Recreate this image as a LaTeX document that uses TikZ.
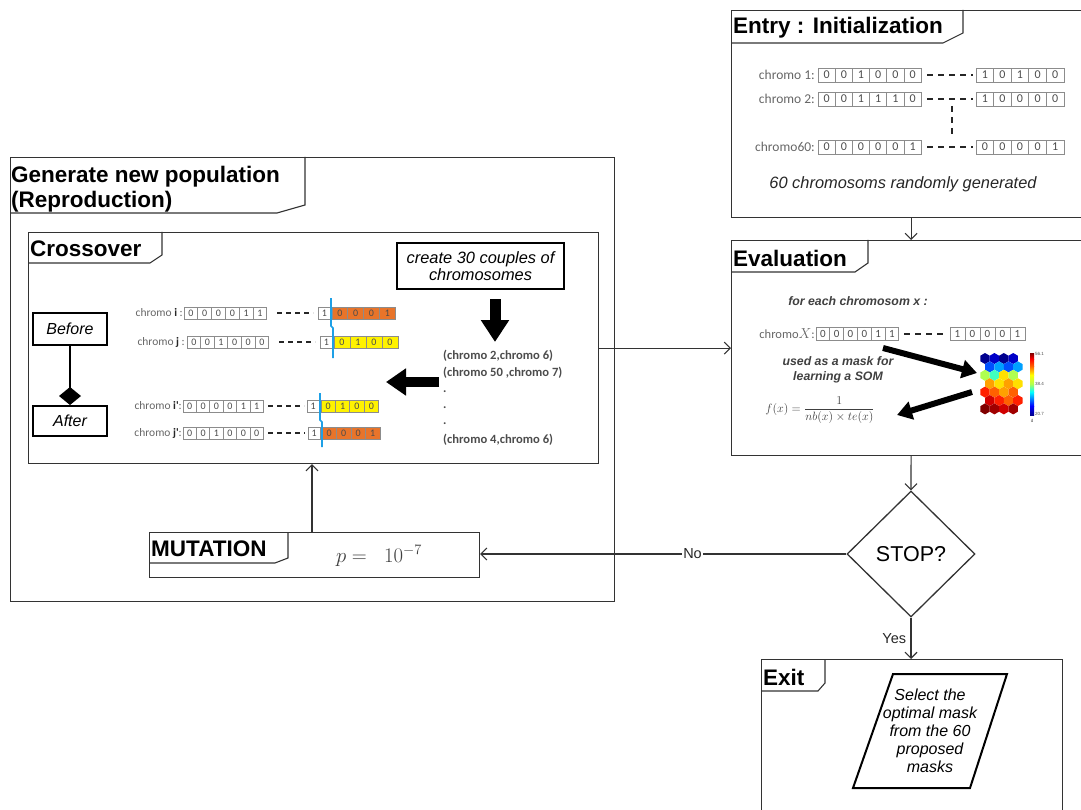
\documentclass[tikz,border=0pt]{standalone}
\usepackage[no-math]{fontspec}
\setmainfont{Liberation Sans}
\newfontfamily\calfont{Carlito}
\usetikzlibrary{arrows.meta,shapes.geometric,calc}
\definecolor{jA}{HTML}{00008F}
\definecolor{jB}{HTML}{0000C8}
\definecolor{jC}{HTML}{0050FF}
\definecolor{jD}{HTML}{00A0FF}
\definecolor{jE}{HTML}{40FFBF}
\definecolor{jF}{HTML}{B0FF50}
\definecolor{jG}{HTML}{FFE000}
\definecolor{jH}{HTML}{FFA000}
\definecolor{jI}{HTML}{FF6000}
\definecolor{jJ}{HTML}{FF2000}
\definecolor{jK}{HTML}{D00000}
\definecolor{jL}{HTML}{A00000}
\definecolor{jM}{HTML}{800000}
\definecolor{xorange}{HTML}{E8742A}
\definecolor{xyellow}{HTML}{FFF200}
\definecolor{cutblue}{HTML}{1EA0E6}
\definecolor{txtgray}{HTML}{404040}
\newcommand\bitrow[8]{%
  \foreach \b [count=\k from 0] in {#7} {
    \node[bitbox, minimum width=#4pt, minimum height=#5pt, fill=#6,
      font=\calfont\fontsize{#8}{#8}\selectfont, name=#1\k] at ({#2+(\k+0.5)*#4},#3) {\b};
  }%
}
\tikzset{
  panel/.style={draw=black!80, line width=1.1pt, anchor=north west, inner sep=0},
  tabline/.style={draw=black!80, line width=1.1pt},
  ttl/.style={font=\fontsize{22.5}{25}\selectfont\bfseries, anchor=west, inner sep=0, align=left},
  arr/.style={draw=black!80, line width=1.1pt, -{Straight Barb[length=6pt,width=12pt]}},
  bitbox/.style={draw=black!45, line width=0.8pt, inner sep=0, text=black!70},
  chlab/.style={font=\calfont\fontsize{13.5}{14}\selectfont, text=black!60, anchor=east, inner sep=0},
  xlab/.style={font=\calfont\fontsize{11.5}{12}\selectfont, text=black!60, anchor=east, inner sep=0},
  dashes/.style={draw=black!85, line width=2.2pt, dash pattern=on 6pt off 5pt},
  bigarr/.style={draw=black, line width=6pt, -{Triangle[length=15pt,width=18pt]}},
  boldit/.style={font=\fontsize{12.3}{14.5}\selectfont\bfseries\itshape, text=txtgray, align=center},
  couple/.style={font=\calfont\fontsize{12.6}{13}\selectfont\bfseries, text=black!70, anchor=west, inner sep=0},
  whitebox/.style={draw=black, line width=2pt, fill=white, font=\fontsize{16}{18}\selectfont\itshape, inner sep=0},
}
\begin{document}
\begin{tikzpicture}[x=1pt,y=-1pt]
\useasboundingbox (0,0) rectangle (1081,810);

% ---------------- panels ----------------
\node[panel, minimum width=359pt, minimum height=207pt] (entry) at (731,10) {};
\node[panel, minimum width=359pt, minimum height=215pt] (eval) at (731,240) {};
\node[panel, minimum width=604pt, minimum height=444pt] (gen) at (10,157) {};
\node[panel, minimum width=570pt, minimum height=231pt] (cross) at (28,232) {};
\node[panel, minimum width=330pt, minimum height=45pt, fill=white] (mut) at (149,532) {};
\node[panel, minimum width=301pt, minimum height=171pt] (exit) at (761,659) {};

% tabs
\draw[tabline] (731,43) -- (943,43) -- (963,33) -- (963,10);
\draw[tabline] (731,272) -- (855,272) -- (868,263) -- (868,240);
\draw[tabline] (10,213) -- (277,213) -- (305,205) -- (305,157);
\draw[tabline] (28,263) -- (150,263) -- (162,255) -- (162,232);
\draw[tabline] (149,563) -- (275,563) -- (288,558) -- (288,532);
\draw[tabline] (761,691) -- (818,691) -- (825,683) -- (825,659);

\node[ttl] (entryT) at (733,28) {Entry : Initialization};
\node[ttl] (evalT) at (733,258) {Evaluation};
\node[ttl] (genT) at (11,189) {Generate new population\\(Reproduction)};
\node[ttl] (crossT) at (30,249) {Crossover};
\node[ttl] (mutT) at (151,549) {MUTATION};
\node[ttl] (exitT) at (763,677) {Exit};

% ---------------- Entry content ----------------
\node[chlab] (l1) at (815,75) {chromo 1:};
\bitrow{ea}{818}{75}{17.2}{14}{white}{0,0,1,0,0,0}{12}
\draw[dashes] (927,75) -- (973,75);
\bitrow{eb}{976}{75}{17.6}{14}{white}{1,0,1,0,0}{12}
\node[chlab] (l2) at (815,99) {chromo 2:};
\bitrow{ec}{818}{99}{17.2}{14}{white}{0,0,1,1,1,0}{12}
\draw[dashes] (927,99) -- (973,99);
\bitrow{ed}{976}{99}{17.6}{14}{white}{1,0,0,0,0}{12}
\node[chlab] (l3) at (815,147) {chromo60:};
\bitrow{ee}{818}{147}{17.2}{14}{white}{0,0,0,0,0,1}{12}
\draw[dashes] (927,147) -- (973,147);
\bitrow{ef}{976}{147}{17.6}{14}{white}{0,0,0,0,1}{12}
\draw[draw=black!85, line width=2pt, dash pattern=on 6pt off 5pt] (952,106) -- (952,137);
\node[font=\fontsize{16.4}{18}\selectfont\itshape, text=black!85] (cap) at (903,184) {60 chromosoms randomly generated};

% ---------------- Evaluation content ----------------
\node[boldit] (foreach) at (858,301) {for each chromosom x :};
\node[chlab, font=\calfont\fontsize{12.5}{13}\selectfont] (lx) at (815,334) {chromo{\fontsize{15}{15}\selectfont$X$}:};
\bitrow{xa}{816}{334}{13.8}{13}{white}{0,0,0,0,1,1}{11}
\draw[dashes] (904,334) -- (947,334);
\bitrow{xb}{950}{334}{15}{13}{white}{1,0,0,0,1}{11}
\node[boldit] (used) at (838,370) {used as a mask for\\learning a SOM};
\node[text=txtgray, font=\fontsize{11.5}{13}\selectfont, inner sep=0] (fx) at (820,410) {$\displaystyle f(x)=\frac{1}{nb(x)\times te(x)}$};
\coordinate (a1s) at (883,348);
\coordinate (a1e) at (977,373);
\coordinate (a2s) at (972,392);
\coordinate (a2e) at (897,415);
\draw[bigarr] (a1s) -- (a1e);
\draw[bigarr] (a2s) -- (a2e);
% SOM hex map
\foreach \r/\ca/\cb/\cc/\cd in {0/jA/jB/jA/jB,1/jC/jD/jC/jD,2/jF/jE/jG/jF,3/jH/jG/jH/jG,4/jJ/jI/jH/jI,5/jK/jJ/jI/jJ,6/jM/jL/jK/jL}{
  \foreach \c/\col in {0/\ca,1/\cb,2/\cc,3/\cd}{
    \pgfmathsetmacro\cx{985+\c*9.4+mod(\r,2)*4.7}
    \pgfmathsetmacro\cy{358.5+\r*8.4}
    \fill[\col] (\cx,\cy) ++(0,-5.5) -- ++(4.7,2.75) -- ++(0,5.5) -- ++(-4.7,2.75) -- ++(-4.7,-2.75) -- ++(0,-5.5) -- cycle;
  }
}
% colour bar
\shade[bottom color=jA, top color=blue] (1030,415) rectangle (1034,406);
\shade[bottom color=blue, top color=cyan] (1030,406) rectangle (1034,392);
\shade[bottom color=cyan, top color=jF] (1030,392) rectangle (1034,384);
\shade[bottom color=jF, top color=yellow] (1030,384) rectangle (1034,375);
\shade[bottom color=yellow, top color=jI] (1030,375) rectangle (1034,366);
\shade[bottom color=jI, top color=red] (1030,366) rectangle (1034,359);
\shade[bottom color=red, top color=jM] (1030,359) rectangle (1034,353);
\node[font=\fontsize{4.5}{5}\selectfont, text=black!70, anchor=west, inner sep=0] (cb1) at (1035,354) {56.1};
\node[font=\fontsize{4.5}{5}\selectfont, text=black!70, anchor=west, inner sep=0] (cb2) at (1035,384) {38.4};
\node[font=\fontsize{4.5}{5}\selectfont, text=black!70, anchor=west, inner sep=0] (cb3) at (1035,414) {20.7};
\node[font=\fontsize{4.5}{5}\selectfont, text=black!70, inner sep=0] (cbd) at (1032,421) {d};

% ---------------- Crossover content ----------------
\node[whitebox, minimum width=167pt, minimum height=46pt, align=center, font=\fontsize{16.4}{17}\selectfont\itshape] (create) at (480.5,266) {create 30 couples of\\chromosomes};
\coordinate (dA) at (495,299);
\coordinate (dB) at (495,342);
\draw[draw=black, line width=11pt, -{Triangle[length=22pt,width=27pt]}] (dA) -- (dB);
\coordinate (lA) at (439,382);
\coordinate (lB) at (386,382);
\draw[draw=black, line width=10pt, -{Triangle[length=20pt,width=26pt]}] (lA) -- (lB);
\node[couple] (c1) at (443,356) {(chromo 2,chromo 6)};
\node[couple] (c2) at (443,373) {(chromo 50 ,chromo 7)};
\node[couple] (c3) at (443,392) {.};
\node[couple] (c4) at (443,408) {.};
\node[couple] (c5) at (443,424) {.};
\node[couple] (c6) at (443,440) {(chromo 4,chromo 6)};

\node[whitebox, minimum width=74pt, minimum height=32pt] (before) at (70,329) {Before};
\node[whitebox, minimum width=74pt, minimum height=30pt] (after) at (70,421) {After};
\draw[line width=2pt, -{Diamond[length=18pt,width=22pt]}] (before.south) -- (after.north);

% row i
\node[xlab] (li) at (183,313) {chromo \textbf{\color{black!85}i} :};
\bitrow{ia}{184}{313}{13.8}{12}{white}{0,0,0,0,1,1}{10}
\draw[dashes, line width=2pt, dash pattern=on 5pt off 4pt] (277,313) -- (313,313);
\bitrow{ib}{318}{313}{13}{12}{white}{1}{10}
\bitrow{ic}{332}{313}{15.8}{12}{xorange}{0,0,0,1}{10}
% row j
\node[xlab] (lj) at (185,342) {chromo \textbf{\color{black!85}j} :};
\bitrow{ja}{187}{342}{13.6}{12}{white}{0,0,1,0,0,0}{10}
\draw[dashes, line width=2pt, dash pattern=on 5pt off 4pt] (279,342) -- (315,342);
\bitrow{jb}{320}{342}{13}{12}{white}{1}{10}
\bitrow{jc}{334}{342}{16}{12}{xyellow}{0,1,0,0}{10}
\draw[cutblue, line width=1.6pt] (331,298) -- (331,326) -- (333,328) -- (333,358);
% row i'
\node[xlab] (li2) at (182,406) {chromo \textbf{\color{black!85}i'}:};
\bitrow{ka}{183}{406}{13.4}{12}{white}{0,0,0,0,1,1}{10}
\draw[dashes, line width=2pt, dash pattern=on 5pt off 4pt] (268,406) -- (304,406);
\bitrow{kb}{307}{406}{12.5}{12}{white}{1}{10}
\bitrow{kc}{321}{406}{14.4}{12}{xyellow}{0,1,0,0}{10}
% row j'
\node[xlab] (lj2) at (182,433) {chromo \textbf{\color{black!85}j'}:};
\bitrow{ma}{183}{433}{13.4}{12}{white}{0,0,1,0,0,0}{10}
\draw[dashes, line width=2pt, dash pattern=on 5pt off 4pt] (268,433) -- (305,433);
\bitrow{mb}{308}{433}{12.5}{12}{white}{1}{10}
\bitrow{mc}{322}{433}{14.5}{12}{xorange}{0,0,0,1}{10}
\draw[cutblue, line width=1.6pt] (320,393) -- (320,420) -- (322,422) -- (322,447);

% ---------------- Mutation content ----------------
\node[text=txtgray, font=\fontsize{20}{20}\selectfont, inner sep=0] (pval) at (379,556) {$p=\;\;10^{-7}$};

% ---------------- STOP / Exit ----------------
\node[diamond, draw=black!80, line width=1.3pt, minimum width=128pt, minimum height=126pt, inner sep=0,
  font=\fontsize{21.5}{22}\selectfont] (stop) at (911,554) {STOP?};
\node[font=\fontsize{16}{18}\selectfont\itshape, align=center, inner sep=0] (sel) at (930,731)
  {Select the\\optimal mask\\from the 60\\proposed\\masks};
\coordinate (p1) at (893,674);
\coordinate (p2) at (1007,674);
\coordinate (p3) at (970,788);
\coordinate (p4) at (853,788);
\draw[line width=2pt] (p1) -- (p2) -- (p3) -- (p4) -- cycle;

% ---------------- connectors ----------------
\draw[arr] (entry.south) -- (eval.north);
\draw[arr] (eval.south) -- (stop.north);
\draw[arr] (stop.south) -- (stop.south |- exit.north)
  node[midway, left=1pt, font=\fontsize{14.5}{15}\selectfont, text=black!85] (yes) {Yes};
\draw[arr] (stop.west) -- (stop.west -| mut.east)
  node[pos=0.42, fill=white, inner sep=1pt, font=\fontsize{14.5}{15}\selectfont, text=black!85] (no) {No};
\draw[arr] (cross.east) -- (cross.east -| eval.west);
\coordinate (mt) at ($(mut.north west)+(163,0)$);
\draw[arr] (mt) -- (mt |- cross.south);
\end{tikzpicture}
\end{document}
